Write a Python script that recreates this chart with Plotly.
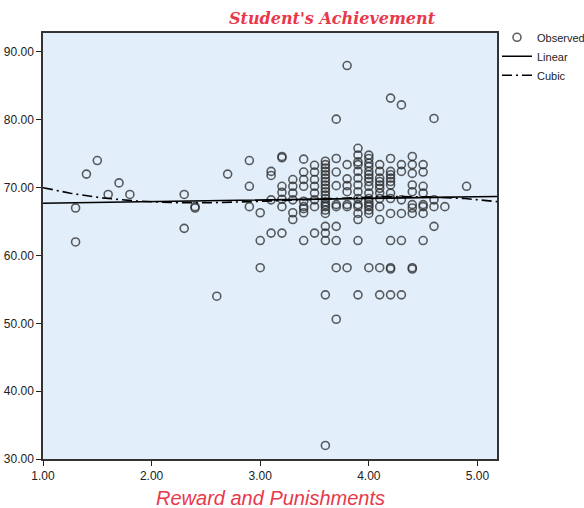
import plotly.graph_objects as go

# Observed points: x = Reward and Punishments, y = Student's Achievement
col_x = [1.3, 1.4, 1.5, 1.6, 1.7, 1.8, 2.3, 2.4, 2.6, 2.7, 2.9, 3.0, 3.1, 3.2, 3.3, 3.4, 3.5,
         3.6, 3.7, 3.8, 3.9, 4.0, 4.1, 4.2, 4.3, 4.4, 4.5, 4.6, 4.7, 4.9]
col_y = [
    [67, 62],
    [72],
    [74],
    [69],
    [70.7],
    [69],
    [69, 64],
    [67, 67.2],
    [54],
    [72],
    [74, 70.2, 67.2],
    [66.3, 62.2, 58.2],
    [72.4, 71.8, 68.2, 63.3],
    [74.6, 74.4, 70.2, 69.3, 68.3, 67.2, 63.3],
    [71.2, 70.2, 69.2, 68.2, 66.3, 65.3],
    [74.2, 72.3, 71.2, 70.2, 68.0, 67.2, 66.9, 66.3, 62.2],
    [73.3, 72.3, 71.2, 70.2, 69.2, 68.2, 67.2, 63.3],
    [73.9, 73.4, 72.9, 72.4, 71.9, 71.4, 70.9, 70.4, 69.9, 69.4, 68.9, 68.4, 67.9, 67.5,
     67.2, 66.7, 66.2, 64.3, 63.3, 62.2, 54.2, 32],
    [80.1, 74.3, 72.3, 70.3, 67.5, 67.2, 64.3, 62.2, 58.2, 50.6],
    [88, 73.4, 71.3, 70.3, 69.4, 67.5, 67.2, 58.2],
    [75.8, 74.8, 73.8, 73.4, 72.4, 71.4, 70.4, 69.4, 68.4, 67.5, 67.2, 66.2, 65.3, 62.2, 54.2],
    [74.8, 74.3, 73.6, 73.1, 72.4, 71.9, 71.4, 70.9, 70.2, 69.2, 68.4, 67.9, 67.5, 67.2,
     66.7, 66.2, 58.2],
    [73.4, 72.4, 71.4, 70.9, 70.4, 69.9, 69.2, 68.4, 67.2, 65.3, 58.2, 54.2],
    [83.2, 74.3, 72.4, 71.9, 71.4, 70.9, 70.4, 69.2, 68.4, 66.2, 62.2, 58.2, 58.0, 54.2],
    [82.2, 73.4, 72.4, 68.2, 66.2, 62.2, 54.2],
    [74.6, 73.4, 72.1, 70.4, 69.4, 67.5, 67.0, 66.2, 58.2, 58.0],
    [73.4, 72.3, 70.2, 69.2, 67.5, 67.2, 66.2, 62.2],
    [80.2, 68.2, 67.2, 64.3],
    [67.2],
    [70.2],
]

# Fitted model coefficients
linear_coef = [67.46, 0.24]                       # intercept, slope (in x)
cubic_center = 3.0
cubic_coef = [67.987, 0.6321, 0.2838, -0.2678]   # in powers of (x - 3)

x_ticks = [1, 2, 3, 4, 5]
y_ticks = [30, 40, 50, 60, 70, 80, 90]
x_range = [1.0, 5.18]
y_range = [30.0, 92.8]

obs_x, obs_y = [], []
for cx, ys in zip(col_x, col_y):
    for v in ys:
        obs_x.append(cx)
        obs_y.append(v)

n = 200
fx = [x_range[0] + (x_range[1] - x_range[0]) * i / (n - 1) for i in range(n)]
lin_y = [linear_coef[0] + linear_coef[1] * v for v in fx]
cub_y = [sum(c * (v - cubic_center) ** k for k, c in enumerate(cubic_coef)) for v in fx]

fig = go.Figure()
fig.add_trace(go.Scatter(
    x=obs_x, y=obs_y, mode="markers", name="Observed",
    marker=dict(symbol="circle-open", size=8, color="rgba(40,40,40,0.75)",
                line=dict(width=1.6, color="rgba(40,40,40,0.75)")),
))
fig.add_trace(go.Scatter(
    x=fx, y=lin_y, mode="lines", name="Linear",
    line=dict(color="black", width=1.6),
))
fig.add_trace(go.Scatter(
    x=fx, y=cub_y, mode="lines", name="Cubic",
    line=dict(color="black", width=1.6, dash="10px,4px,2px,4px"),
))

axis_common = dict(
    showline=True, linecolor="#333", linewidth=1.5, mirror=True,
    ticks="outside", ticklen=5, tickcolor="#222", tickwidth=1.2,
    showgrid=False, zeroline=False, automargin=False,
    tickfont=dict(family="Liberation Sans, Arial", size=12, color="#222"),
    tickformat=".2f",
)

fig.update_layout(
    width=584, height=508,
    margin=dict(l=43, r=87, t=33, b=49, autoexpand=False),
    paper_bgcolor="white",
    plot_bgcolor="#e2eefa",
    title=dict(text="<b><i>Student's Achievement</i></b>",
               x=332 / 584, xanchor="center", y=1 - 18 / 508, yanchor="middle",
               font=dict(family="DejaVu Serif", size=16, color="#e8394a")),
    xaxis=dict(range=x_range, tickvals=x_ticks, **axis_common),
    yaxis=dict(range=y_range, tickvals=y_ticks, **axis_common),
    legend=dict(x=1.0, y=1.024, xanchor="left", yanchor="top",
                font=dict(family="Liberation Sans, Arial", size=11, color="#222"),
                bgcolor="rgba(0,0,0,0)", itemwidth=30, tracegroupgap=0),
    showlegend=True,
    annotations=[dict(text="<i>Reward and Punishments</i>", xref="paper", yref="paper",
                      x=0.5, y=-0.092, xanchor="center", yanchor="middle", showarrow=False,
                      font=dict(family="Liberation Sans, Arial", size=20, color="#e8394a"))],
)

# remove the browser's default 8px body margin so the figure sits at the page origin
fig.write_html("out.html", config={"displayModeBar": False},
               post_script="document.body.style.margin='0';")
